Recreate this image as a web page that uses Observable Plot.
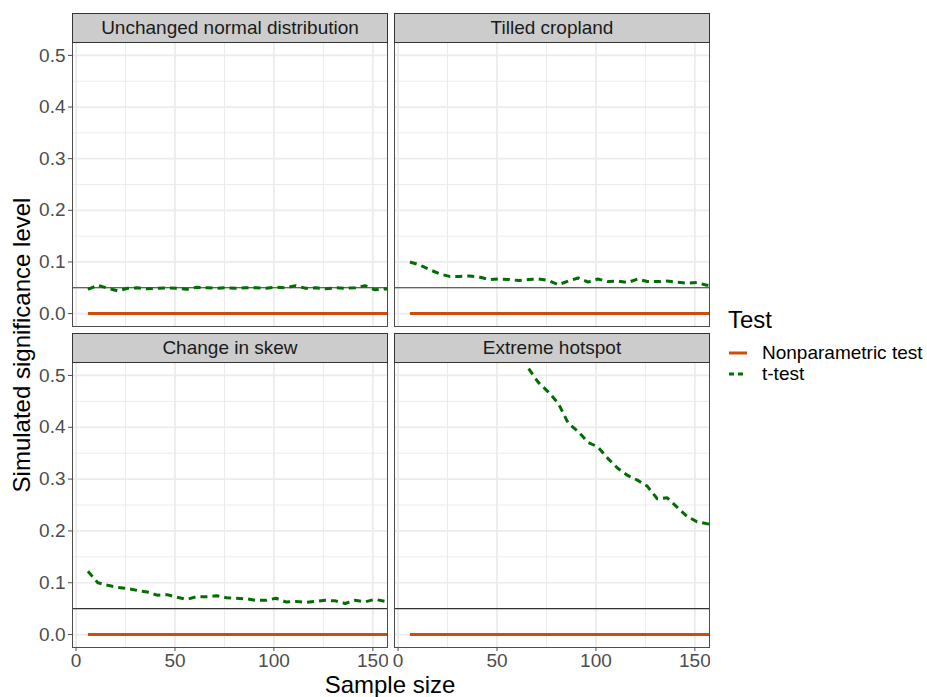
<!DOCTYPE html>
<html><head><meta charset="utf-8">
<script src="https://cdn.jsdelivr.net/npm/d3@7"></script>
<script src="https://cdn.jsdelivr.net/npm/@observablehq/plot@0.6"></script>
<style>
body{margin:0;background:#fff;font-family:"Liberation Sans",Arial,sans-serif;}
#chart{position:relative;width:927px;height:697px;overflow:hidden;}
.panel{position:absolute;}
.strip{position:absolute;box-sizing:border-box;background:#cccccc;border:1px solid #333;font-size:19px;color:#1a1a1a;display:flex;align-items:center;justify-content:center;}
.title{position:absolute;font-size:24px;color:#000;white-space:nowrap;}
.legend-item{position:absolute;font-size:19px;color:#000;white-space:nowrap;display:flex;align-items:center;}
</style></head><body><div id="chart"></div>
<script>
// ---- data ----
const sampleSizes = [6, 11, 16, 21, 26, 31, 36, 41, 46, 51, 56, 61, 66, 71, 76, 81, 86, 91, 96, 101, 106, 111, 116, 121, 126, 131, 136, 141, 146, 151, 156, 161];
const panelNames = ["Unchanged normal distribution", "Tilled cropland", "Change in skew", "Extreme hotspot"];
const tNormal = [0.047, 0.055, 0.049, 0.044, 0.049, 0.050, 0.048, 0.049, 0.050, 0.049, 0.047, 0.051, 0.050, 0.049, 0.050, 0.049, 0.050, 0.050, 0.049, 0.051, 0.050, 0.054, 0.049, 0.050, 0.048, 0.050, 0.049, 0.050, 0.054, 0.046, 0.048, 0.047];
const tTilled = [0.100, 0.094, 0.085, 0.077, 0.072, 0.072, 0.073, 0.071, 0.066, 0.067, 0.066, 0.064, 0.066, 0.067, 0.064, 0.056, 0.063, 0.069, 0.061, 0.067, 0.062, 0.063, 0.060, 0.067, 0.062, 0.062, 0.063, 0.061, 0.059, 0.060, 0.055, 0.054];
const tSkew = [0.122, 0.100, 0.095, 0.091, 0.089, 0.085, 0.082, 0.076, 0.077, 0.072, 0.068, 0.073, 0.073, 0.075, 0.071, 0.070, 0.069, 0.066, 0.066, 0.070, 0.063, 0.064, 0.062, 0.064, 0.066, 0.065, 0.060, 0.066, 0.063, 0.068, 0.064, 0.062];
const tHotspot = [null, null, null, null, null, null, null, null, null, null, null, null, 0.513, 0.486, 0.468, 0.446, 0.408, 0.392, 0.371, 0.362, 0.340, 0.321, 0.307, 0.298, 0.286, 0.262, 0.264, 0.246, 0.228, 0.218, 0.214, 0.211];
const nonparametric = [0, 0, 0, 0, 0, 0, 0, 0, 0, 0, 0, 0, 0, 0, 0, 0, 0, 0, 0, 0, 0, 0, 0, 0, 0, 0, 0, 0, 0, 0, 0, 0];
const nominalLevel = 0.05;
const xTicks = [0, 50, 100, 150];
const xMinor = [25, 75, 125];
const yTicks = [0, 0.1, 0.2, 0.3, 0.4, 0.5];
const yMinor = [0.05, 0.15, 0.25, 0.35, 0.45];
const testNames = ["Nonparametric test", "t-test"];
const testColors = ["#CC4E0A", "#006E00"];
const tSeries = [tNormal, tTilled, tSkew, tHotspot];

// ---- layout ----
const chart = document.getElementById("chart");
const font = '"Liberation Sans", Arial, sans-serif';
const colLeft = [72, 394];
const rowTop = [42, 362];
const rowH = [284, 285];
const panelW = 315;
const stripH = 29;

panelNames.forEach((name, k) => {
  const col = k % 2, row = Math.floor(k / 2);
  const ml = col === 0 ? 46 : 1;
  const mb = row === 1 ? 34 : 1;
  const h = rowH[row];
  const data = sampleSizes.map((n, i) => ({n, t: tSeries[k][i], np: nonparametric[i]}));
  const svg = Plot.plot({
    width: panelW + ml + 1,
    height: h + 1 + mb,
    marginLeft: ml, marginRight: 1, marginTop: 1, marginBottom: mb,
    x: {domain: [-1.8, 157.4], ticks: xTicks, axis: row === 1 ? "bottom" : null, label: null, tickSize: 4, tickPadding: 2},
    y: {domain: [-0.025, 0.525], ticks: yTicks, tickFormat: d3.format(".1f"), axis: col === 0 ? "left" : null, label: null, tickSize: 4, tickPadding: 3},
    style: {fontSize: "19px", fontFamily: font, color: "#4d4d4d", background: "transparent"},
    marks: [
      Plot.ruleX(xMinor, {stroke: "#ebebeb", strokeWidth: 1}),
      Plot.ruleY(yMinor, {stroke: "#ebebeb", strokeWidth: 1}),
      Plot.ruleX(xTicks, {stroke: "#ebebeb", strokeWidth: 1.7}),
      Plot.ruleY(yTicks, {stroke: "#ebebeb", strokeWidth: 1.7}),
      Plot.ruleY([nominalLevel], {stroke: "#333333", strokeWidth: 1.2}),
      Plot.line(data, {x: "n", y: "np", stroke: testColors[0], strokeWidth: 3, strokeLinecap: "butt", clip: true}),
      Plot.line(data, {x: "n", y: "t", stroke: testColors[1], strokeWidth: 3, strokeDasharray: "7,5", strokeLinecap: "butt", clip: true}),
      Plot.frame({stroke: "#4d4d4d", strokeWidth: 1})
    ]
  });
  svg.classList.add("panel");
  svg.style.left = (colLeft[col] - ml) + "px";
  svg.style.top = (rowTop[row] - 1) + "px";
  svg.style.maxWidth = "none";
  chart.appendChild(svg);

  const strip = document.createElement("div");
  strip.className = "strip";
  strip.textContent = name;
  strip.style.left = colLeft[col] + "px";
  strip.style.top = (rowTop[row] - stripH) + "px";
  strip.style.width = (panelW + 1) + "px";
  strip.style.height = (stripH + 1) + "px";
  chart.appendChild(strip);
});

// axis titles
const xt = document.createElement("div");
xt.className = "title";
xt.textContent = "Sample size";
xt.style.left = "390px"; xt.style.top = "685px";
xt.style.transform = "translate(-50%,-50%)";
chart.appendChild(xt);

const yt = document.createElement("div");
yt.className = "title";
yt.textContent = "Simulated significance level";
yt.style.left = "22px"; yt.style.top = "345px";
yt.style.transform = "translate(-50%,-50%) rotate(-90deg)";
chart.appendChild(yt);

// legend
const lt = document.createElement("div");
lt.className = "title";
lt.textContent = "Test";
lt.style.left = "728px"; lt.style.top = "320px";
lt.style.transform = "translateY(-50%)";
chart.appendChild(lt);

testNames.forEach((name, i) => {
  const item = document.createElement("div");
  item.className = "legend-item";
  item.style.left = "729px";
  item.style.top = (353 + i * 21) + "px";
  item.style.transform = "translateY(-50%)";
  const key = d3.create("svg").attr("width", 33).attr("height", 20);
  key.append("line").attr("x1", 0).attr("x2", 18).attr("y1", 10).attr("y2", 10)
    .attr("stroke", testColors[i]).attr("stroke-width", 3)
    .attr("stroke-dasharray", i === 1 ? "5,4" : null);
  item.appendChild(key.node());
  const span = document.createElement("span");
  span.textContent = name;
  item.appendChild(span);
  chart.appendChild(item);
});
</script></body></html>
